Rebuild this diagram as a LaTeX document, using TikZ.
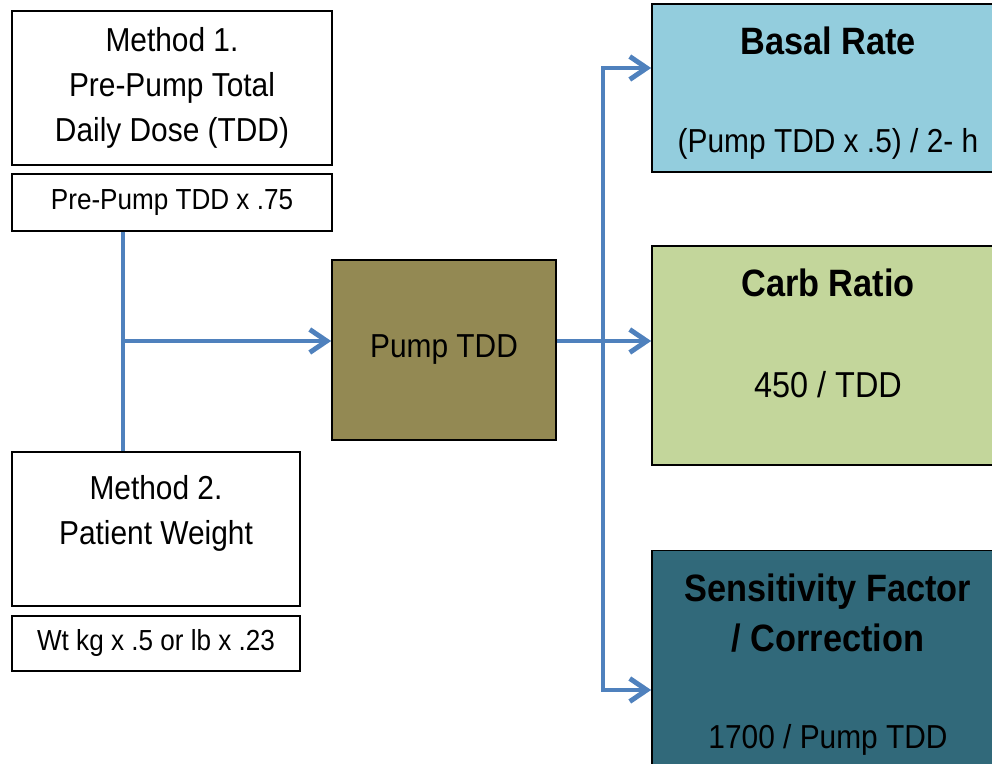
\documentclass[tikz,border=0pt]{standalone}
\usepackage{fontspec}
\setmainfont[FakeStretch=0.9]{Liberation Sans}
\usepackage{tikz}
\usetikzlibrary{arrows.meta,positioning,calc}
\definecolor{flowblue}{HTML}{4F81BD}
\definecolor{pumpolive}{HTML}{938953}
\definecolor{basalblue}{HTML}{93CDDD}
\definecolor{carbgreen}{HTML}{C3D69B}
\definecolor{sensteal}{HTML}{31697A}
\tikzset{
  box/.style={draw, line width=1pt, fill=white, align=center, inner sep=0pt,
              font=\fontsize{18.9}{25.8}\selectfont},
  fbox/.style={box, font=\fontsize{16.5}{18}\selectfont},
  res/.style={draw, line width=1pt, minimum width=7.04cm, inner sep=0pt},
  lbl/.style={font=\fontsize{18.9}{25.4}\selectfont, align=center, anchor=base, inner sep=0pt},
  hd/.style={font=\fontsize{21.7}{28.6}\selectfont\bfseries, align=center,
             anchor=base, inner sep=0pt},
  tx/.style={font=\fontsize{18.9}{22}\selectfont, anchor=base, inner sep=0pt},
  link/.style={draw=flowblue, line width=2.8pt},
  >={Straight Barb[length=3.4mm, width=4.6mm]},
}

\begin{document}
\begin{tikzpicture}[x=0.02cm, y=-0.02cm, node distance=0.14cm]
  \useasboundingbox (0,0) rectangle (992,764);
  % left: the two ways to get the pump dose
  \node[box, minimum width=6.4cm, minimum height=3.08cm] (m1) at (172,88)
       {Method 1.\\Pre-Pump Total\\Daily Dose (TDD)};
  \node[fbox, minimum width=6.4cm, minimum height=1.14cm, below=of m1] (m1f) {Pre-Pump TDD x .75};
  \node[box, minimum width=5.76cm, minimum height=3.08cm] (m2) at (156,529) {};
  \node[lbl] (m2t) at ([yshift=-1.86cm]m2.north) {Method 2.\\Patient Weight};
  \node[fbox, minimum width=5.76cm, minimum height=1.1cm, below=0.16cm of m2] (m2f) {Wt kg x .5 or lb x .23};
  \node[box, fill=pumpolive, minimum width=4.48cm, minimum height=3.6cm] (pump) at (444,350) {Pump TDD};
  % right: the pump settings
  \node[res, fill=basalblue, minimum height=3.36cm] (basal) at (828,88) {};
  \node[res, fill=carbgreen, minimum height=4.38cm, below=1.44cm of basal] (carb) {};
  \node[res, fill=sensteal, minimum height=5.06cm, below=1.68cm of carb] (sens) {};
  \node[hd] (basalh) at ([yshift=-1.02cm]basal.north) {Basal Rate};
  \node[tx] (basalf) at ([yshift=0.4cm]basal.south) {(Pump TDD x .5) / 2- h};
  \node[hd] (carbh) at ([yshift=-1.04cm]carb.north) {Carb Ratio};
  \node[tx, font=\fontsize{20.5}{22}\selectfont] (carbf) at ([yshift=-3.06cm]carb.north) {450 / TDD};
  \node[hd] (sensh) at ([yshift=-2.04cm]sens.north) {Sensitivity Factor\\/ Correction};
  \node[tx] (sensf) at ([yshift=-3.98cm]sens.north) {1700 / Pump TDD};
  % connectors
  \coordinate (join) at (123,341);
  \coordinate (bt) at (603,68);
  \coordinate (bb) at (603,690);
  \draw[link] (m1f.south -| join) -- (m2.north -| join);
  \draw[link, ->] (join) -- (join -| pump.west);
  \draw[link, ->] (join -| pump.east) -- (join -| carb.west);
  \draw[link, <->] (bt -| basal.west) -- (bt) -- (bb) -- (bb -| sens.west);
\end{tikzpicture}
\end{document}
